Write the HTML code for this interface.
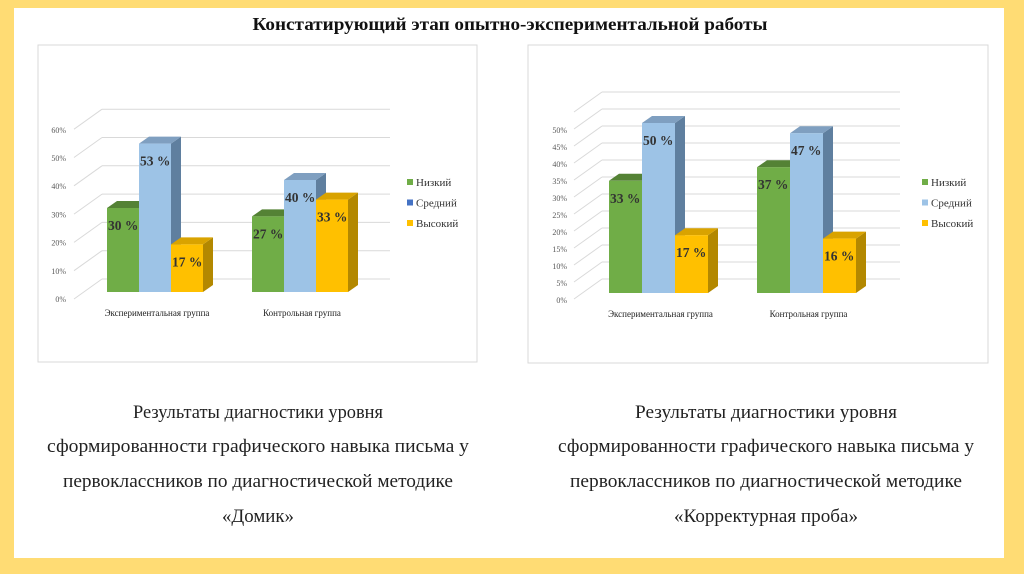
<!DOCTYPE html>
<html><head><meta charset="utf-8"><style>
html,body{margin:0;padding:0;background:#ffdc74;}
svg{display:block;font-family:"Liberation Serif",serif;}
</style></head><body>
<svg id="s" width="1024" height="574" xmlns="http://www.w3.org/2000/svg">
<rect x="0" y="0" width="1024" height="574" fill="#ffdc74"/>
<rect x="14" y="8" width="990" height="550" fill="#ffffff"/>
<text x="510" y="30" text-anchor="middle" font-size="18" font-weight="bold" fill="#111" textLength="515" lengthAdjust="spacingAndGlyphs">Констатирующий этап опытно-экспериментальной работы</text>
<rect x="38" y="45" width="439" height="317" fill="#fff" stroke="#d9d9d9"/>
<rect x="528" y="45" width="460" height="318" fill="#fff" stroke="#d9d9d9"/>
<g font-size="19" fill="#222" text-anchor="middle">
<text x="258" y="418" textLength="250" lengthAdjust="spacingAndGlyphs">Результаты диагностики уровня</text>
<text x="258" y="452" textLength="422" lengthAdjust="spacingAndGlyphs">сформированности графического навыка письма у</text>
<text x="258" y="487" textLength="390" lengthAdjust="spacingAndGlyphs">первоклассников по диагностической методике</text>
<text x="258" y="522" textLength="72" lengthAdjust="spacingAndGlyphs">«Домик»</text>
<text x="766" y="418" textLength="262" lengthAdjust="spacingAndGlyphs">Результаты диагностики уровня</text>
<text x="766" y="452" textLength="416" lengthAdjust="spacingAndGlyphs">сформированности графического навыка письма у</text>
<text x="766" y="487" textLength="392" lengthAdjust="spacingAndGlyphs">первоклассников по диагностической методике</text>
<text x="766" y="522" textLength="184" lengthAdjust="spacingAndGlyphs">«Корректурная проба»</text>
</g>
</svg>
<script>
const categories = ["Экспериментальная группа", "Контрольная группа"];
const seriesNames = ["Низкий", "Средний", "Высокий"];
const domikLow = [30, 27];
const domikMid = [53, 40];
const domikHigh = [17, 33];
const probaLow = [33, 37];
const probaMid = [50, 47];
const probaHigh = [17, 16];
const domikTicks = [0, 10, 20, 30, 40, 50, 60];
const probaTicks = [0, 5, 10, 15, 20, 25, 30, 35, 40, 45, 50, 55];

const NS = "http://www.w3.org/2000/svg";
const svg = document.getElementById('s');
function mk(tag, attrs, parent) {
  const e = document.createElementNS(NS, tag);
  for (const k in attrs) e.setAttribute(k, attrs[k]);
  (parent || svg).appendChild(e);
  return e;
}
const fronts = ["#70ad47", "#9dc3e6", "#ffc000"];
const tops = ["#548235", "#7f9fc0", "#d9a300"];
const sides = ["#4f7a30", "#5f7f9f", "#b38800"];

function drawChart(cfg) {
  const g = mk('g', {});
  
  
  const yFront = v => cfg.labelBase - v * cfg.labelScale;
  const yBack = v => cfg.backBase - v * cfg.backScale;
  const yBar = v => cfg.base - v * cfg.scale;
  cfg.ticks.forEach((t, i) => {
    const ln = mk('line', {x1: cfg.backX, x2: cfg.backX2, y1: yBack(t), y2: yBack(t), stroke: "#d9d9d9", "stroke-width": 1}, g);
    
    
    const dg = mk('line', {x1: cfg.backX - 28, y1: yBack(t) + 20, x2: cfg.backX, y2: yBack(t), stroke: "#d9d9d9", "stroke-width": 1}, g);
    
    
    if (i < cfg.labelCount) {
      const tx = mk('text', {x: cfg.tickX, y: yFront(t) + 3, "text-anchor": "end", "font-size": 8, fill: "#595959"}, g);
      tx.textContent = t + "%";
      
      
    }
  });
  const series = cfg.series;
  categories.forEach((c, ci) => {
    const gx = cfg.x0 + ci * cfg.groupGap;
    series.forEach((arr, si) => {
      const v = arr[ci];
      const x = gx + si * cfg.bw, y = yBar(v), w = cfg.bw, dx = 10, dy = 7;
      const side = mk('polygon', {points: `${x+w},${y} ${x+w+dx},${y-dy} ${x+w+dx},${cfg.base-dy} ${x+w},${cfg.base}`, fill: sides[si]}, g);
      
      
      const top = mk('polygon', {points: `${x},${y} ${x+dx},${y-dy} ${x+w+dx},${y-dy} ${x+w},${y}`, fill: tops[si]}, g);
      
      
      const r = mk('rect', {x: x, y: y, width: w, height: cfg.base - y, fill: fronts[si]}, g);
      
      
    });
    series.forEach((arr, si) => {
      const v = arr[ci];
      const x = gx + si * cfg.bw;
      const lb = mk('text', {x: x + 1, y: yBar(v) + 22, "font-size": 13.5, "font-weight": "bold", fill: "#333"}, g);
      lb.textContent = v + " %";
      
      
    });
    const cl = mk('text', {x: gx + cfg.bw * 1.5 + 2, y: cfg.catY, "text-anchor": "middle", "font-size": 9, fill: "#222"}, g);
    cl.textContent = c;
    
    
  });
  seriesNames.forEach((n, i) => {
    const sq = mk('rect', {x: cfg.legX, y: cfg.legY + i * cfg.legGap - 4, width: 6, height: 6, fill: cfg.legColors[i]}, g);
    
    
    const t = mk('text', {x: cfg.legX + 9, y: cfg.legY + i * cfg.legGap + 3, "font-size": 11, fill: "#333"}, g);
    t.textContent = n;
    
    
  });
}

drawChart({name: 'chart-domik', series: [domikLow, domikMid, domikHigh], ticks: domikTicks, labelCount: 7,
  base: 292, scale: 2.8, labelBase: 299, labelScale: 2.82, backBase: 279, backScale: 2.83,
  backX: 102, backX2: 390, tickX: 66, x0: 107, groupGap: 145, bw: 32, catY: 316,
  legX: 407, legY: 183, legGap: 20.5, legColors: ["#70ad47", "#4472c4", "#ffc000"]});
drawChart({name: 'chart-korrekturnaya-proba', series: [probaLow, probaMid, probaHigh], ticks: probaTicks, labelCount: 11,
  base: 293, scale: 3.4, labelBase: 300, labelScale: 3.4, backBase: 279, backScale: 3.4,
  backX: 602, backX2: 900, tickX: 567, x0: 609, groupGap: 148, bw: 33, catY: 317,
  legX: 922, legY: 183, legGap: 20.5, legColors: ["#70ad47", "#9dc3e6", "#ffc000"]});
</script>
</body></html>
